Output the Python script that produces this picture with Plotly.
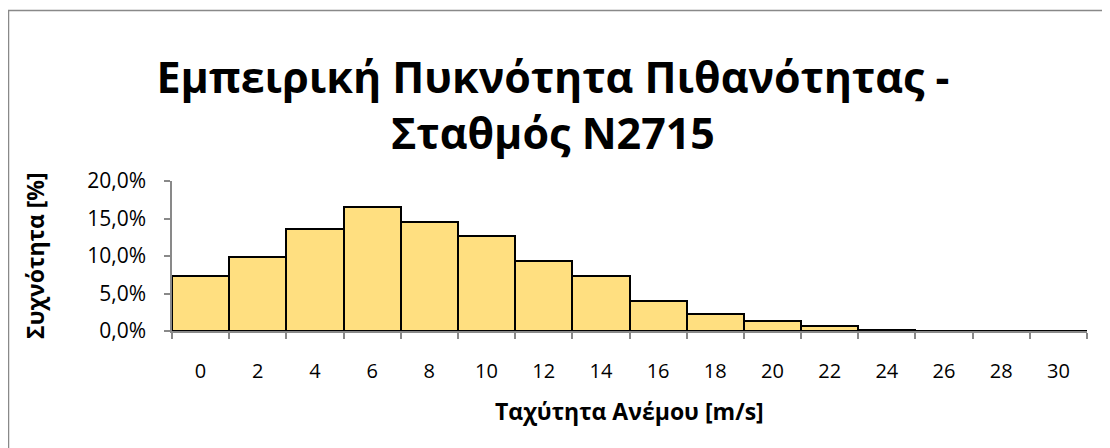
import plotly.graph_objects as go

# Data
categories = ["0", "2", "4", "6", "8", "10", "12", "14", "16", "18", "20", "22", "24", "26", "28", "30"]
frequency = [0.073, 0.0987, 0.136, 0.166, 0.145, 0.127, 0.094, 0.073, 0.0396, 0.0227, 0.0129, 0.0062, 0.002, 0.0005, 0.0002, 0.0001]
y_ticks = [0, 0.05, 0.10, 0.15, 0.20]

title_text = "Εμπειρική Πυκνότητα Πιθανότητας -<br>Σταθμός N2715"
x_title = "Ταχύτητα Ανέμου [m/s]"
y_title = "Συχνότητα [%]"

FONT = "Open Sans"
GRAY = "#898989"

# page body adds an 8px offset; positions below are in figure pixels
OFF = 8
W, H = 1110, 448
L, R, T, B = 172 - OFF, 1110 - (1087 - OFF), 181 - OFF, 448 - (331 - OFF)
pw, ph = W - L - R, H - T - B

def px_x(px):
    return (px - OFF - L) / pw

def px_y(py):
    return (H - B - (py - OFF)) / ph

fig = go.Figure()
fig.add_trace(go.Bar(
    x=categories, y=frequency,
    marker=dict(color="#FFDF80", line=dict(color="#000000", width=2)),
))

fig.update_layout(
    width=W, height=H,
    margin=dict(l=L, r=R, t=T, b=B),
    paper_bgcolor="white", plot_bgcolor="white",
    separators=",.",
    bargap=0,
    showlegend=False,
    font=dict(family=FONT, color="#000000", size=20),
    title=dict(
        text="<b>" + title_text + "</b>",
        xref="container", x=(553 - OFF) / W, xanchor="center",
        yref="container", y=1 - (93 - OFF) / H, yanchor="middle",
        font=dict(family=FONT, size=43, color="#000000"),
    ),
    xaxis=dict(
        type="category", tickson="boundaries",
        showline=True, linecolor=GRAY, linewidth=2,
        ticks="outside", ticklen=6, tickcolor=GRAY, tickwidth=1.5,
        showgrid=False, zeroline=False,
        ticklabelstandoff=21,
        tickfont=dict(family=FONT, size=20),
    ),
    yaxis=dict(
        range=[0, 0.2], tickvals=y_ticks, tickformat=".1%",
        showline=True, linecolor=GRAY, linewidth=1.5,
        ticks="outside", ticklen=6, tickcolor=GRAY, tickwidth=1.5,
        showgrid=False, zeroline=False,
        ticklabelstandoff=14,
        tickfont=dict(family=FONT, size=21),
    ),
    annotations=[
        dict(text="<b>" + x_title + "</b>", xref="paper", yref="paper",
             x=0.5, y=px_y(411), xanchor="center", yanchor="middle",
             showarrow=False, font=dict(family=FONT, size=23)),
        dict(text="<b>" + y_title + "</b>", xref="paper", yref="paper",
             x=px_x(35), y=0.5, xanchor="center", yanchor="middle",
             textangle=-90, showarrow=False, font=dict(family=FONT, size=23)),
    ],
    shapes=[
        dict(type="line", xref="paper", yref="paper",
             x0=px_x(8), x1=px_x(W + 20), y0=px_y(10.5), y1=px_y(10.5),
             line=dict(color=GRAY, width=1.5)),
        dict(type="line", xref="paper", yref="paper",
             x0=px_x(8.5), x1=px_x(8.5), y0=px_y(10.5), y1=px_y(H + 20),
             line=dict(color=GRAY, width=1.5)),
    ],
)

fig.write_html("out.html")
